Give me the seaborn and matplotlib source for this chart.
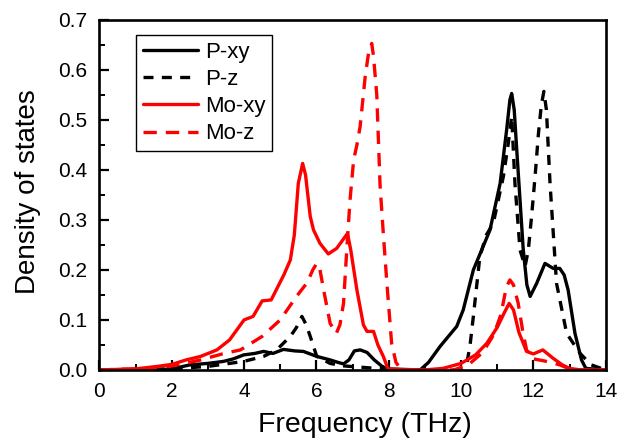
import numpy as np
import pandas as pd
import matplotlib
matplotlib.use("Agg")
import matplotlib.pyplot as plt
from matplotlib.ticker import MultipleLocator, FormatStrFormatter
import seaborn as sns

# ---- data ----
mo_xy_x = [0, 1.0, 1.6, 2.0, 2.4, 2.8, 3.25, 3.6, 3.8, 4.0, 4.25, 4.5, 4.75, 5.1, 5.28, 5.39,
           5.5, 5.62, 5.7, 5.83, 5.92, 6.1, 6.33, 6.56, 6.86, 6.95, 7.12, 7.3, 7.4, 7.58, 7.7,
           7.85, 7.98, 8.5, 9.0, 9.5, 10.0, 10.4, 10.71, 11.0, 11.2, 11.33, 11.45, 11.6, 11.81,
           12.0, 12.26, 12.55, 12.8, 13.0, 13.3, 14]
mo_xy_y = [0, 0.002, 0.007, 0.011, 0.02, 0.027, 0.04, 0.06, 0.08, 0.1, 0.107, 0.138, 0.14, 0.19,
           0.22, 0.27, 0.373, 0.413, 0.39, 0.307, 0.28, 0.253, 0.232, 0.243, 0.273, 0.24, 0.16, 0.09,
           0.077, 0.077, 0.05, 0.027, 0.002, 0, 0, 0.003, 0.013, 0.03, 0.053, 0.085, 0.115, 0.133,
           0.12, 0.075, 0.037, 0.032, 0.04, 0.023, 0.01, 0.003, 0, 0]

mo_z_x = [0, 1.5, 2.0, 2.5, 2.8, 3.4, 3.9, 4.5, 5.0, 5.45, 5.75, 5.9, 6.01, 6.1, 6.2, 6.38, 6.55,
          6.65, 6.75, 6.84, 6.93, 7.03, 7.12, 7.21, 7.35, 7.44, 7.53, 7.58, 7.67, 7.76, 7.85, 7.95,
          8.08, 8.2, 8.35, 9.8, 10.2, 10.6, 10.9, 11.1, 11.25, 11.35, 11.45, 11.58, 11.7, 11.81,
          12.0, 12.3, 12.73, 13.0, 13.3, 14]
mo_z_y = [0, 0.003, 0.008, 0.015, 0.02, 0.032, 0.04, 0.067, 0.1, 0.147, 0.175, 0.2, 0.213, 0.2,
          0.16, 0.093, 0.073, 0.09, 0.133, 0.24, 0.34, 0.42, 0.45, 0.487, 0.587, 0.633, 0.653,
          0.627, 0.55, 0.37, 0.273, 0.173, 0.053, 0.015, 0, 0, 0.01, 0.035, 0.07, 0.11, 0.165,
          0.18, 0.17, 0.133, 0.08, 0.04, 0.022, 0.018, 0.01, 0.002, 0, 0]

p_xy_x = [0, 1.5, 2.0, 2.5, 3.0, 3.43, 3.7, 3.99, 4.3, 4.54, 4.8, 5.09, 5.4, 5.64, 6.01, 6.38, 6.6,
          6.75, 6.9, 7.05, 7.21, 7.4, 7.6, 7.8, 7.95, 8.87, 9.1, 9.42, 9.88, 10.06, 10.2, 10.34,
          10.6, 10.8, 11.08, 11.26, 11.35, 11.4, 11.47, 11.54, 11.63, 11.72, 11.82, 11.91, 12.09,
          12.32, 12.55, 12.73, 12.85, 12.96, 13.15, 13.33, 13.45, 14]
p_xy_y = [0, 0, 0.002, 0.01, 0.013, 0.017, 0.022, 0.03, 0.033, 0.037, 0.033, 0.041, 0.038, 0.037,
          0.027, 0.02, 0.015, 0.012, 0.02, 0.038, 0.04, 0.035, 0.02, 0.008, 0.002, 0, 0.015, 0.047,
          0.087, 0.12, 0.16, 0.2, 0.245, 0.28, 0.373, 0.48, 0.54, 0.553, 0.52, 0.44, 0.34, 0.24,
          0.17, 0.147, 0.173, 0.213, 0.203, 0.203, 0.19, 0.16, 0.073, 0.02, 0.003, 0]

p_z_x = [0, 2.0, 3.0, 3.5, 3.99, 4.54, 4.9, 5.28, 5.45, 5.6, 5.72, 5.83, 6.01, 6.38, 6.75, 7.3,
         7.85, 8.1, 10.0, 10.16, 10.25, 10.34, 10.52, 10.7, 10.89, 11.17, 11.3, 11.4, 11.49, 11.63,
         11.77, 11.86, 11.95, 12.05, 12.14, 12.22, 12.29, 12.36, 12.46, 12.64, 12.92, 13.29, 13.6, 14.0]
p_z_y = [0, 0.002, 0.007, 0.012, 0.017, 0.027, 0.04, 0.067, 0.085, 0.107, 0.09, 0.067, 0.027,
         0.013, 0.008, 0.005, 0.002, 0, 0, 0.013, 0.05, 0.107, 0.227, 0.27, 0.293, 0.387, 0.45,
         0.507, 0.373, 0.24, 0.207, 0.24, 0.307, 0.39, 0.473, 0.53, 0.557, 0.52, 0.373, 0.173,
         0.073, 0.033, 0.01, 0]

labels = ["P-xy", "P-z", "Mo-xy", "Mo-z"]
xticks = [0, 2, 4, 6, 8, 10, 12, 14]
yticks = [0.0, 0.1, 0.2, 0.3, 0.4, 0.5, 0.6, 0.7]

# ---- style ----
sns.set_style("ticks")
plt.rcParams["font.family"] = ["Liberation Sans", "DejaVu Sans"]
plt.rcParams["xtick.direction"] = "in"
plt.rcParams["ytick.direction"] = "in"
plt.rcParams["text.color"] = "black"
plt.rcParams["axes.labelcolor"] = "black"
plt.rcParams["xtick.color"] = "black"
plt.rcParams["ytick.color"] = "black"
plt.rcParams["axes.edgecolor"] = "black"

fig = plt.figure(figsize=(6.29, 4.43), dpi=100)
ax = fig.add_axes([0.158, 0.165, 0.805, 0.79])

series = [
    (p_xy_x, p_xy_y, "black", None),
    (p_z_x, p_z_y, "black", (3, 2.5)),
    (mo_xy_x, mo_xy_y, "red", None),
    (mo_z_x, mo_z_y, "red", (4, 2.7)),
]
for (xs, ys, col, dash), lab in zip(series, labels):
    df = pd.DataFrame({"x": xs, "y": ys})
    kw = {}
    if dash is not None:
        kw["dashes"] = dash
    sns.lineplot(data=df, x="x", y="y", ax=ax, color=col, lw=2.4,
                 label=lab, sort=False, estimator=None, **kw)

ax.set_xlim(0, 14)
ax.set_ylim(0, 0.7)
ax.set_xticks(xticks)
ax.set_yticks(yticks)
ax.xaxis.set_minor_locator(MultipleLocator(1))
ax.yaxis.set_minor_locator(MultipleLocator(0.05))
ax.yaxis.set_major_formatter(FormatStrFormatter("%.1f"))
ax.tick_params(axis="both", which="major", labelsize=15, length=7.5, width=1.6,
               color="black", labelcolor="black")
ax.tick_params(axis="x", which="major", pad=9)
ax.tick_params(axis="y", which="major", pad=9)
ax.tick_params(axis="both", which="minor", length=4.5, width=1.4, color="black")
for s in ax.spines.values():
    s.set_linewidth(1.9)
    s.set_color("black")

ax.set_xlabel("Frequency (THz)", fontsize=20.5, color="black")
ax.set_ylabel("Density of states", fontsize=20, color="black")
ax.xaxis.set_label_coords(0.525, -0.12)
ax.yaxis.set_label_coords(-0.115, 0.51)

leg = ax.legend(loc="upper left", bbox_to_anchor=(0.072, 0.957), borderaxespad=0,
                fontsize=16, frameon=True, fancybox=False, framealpha=1,
                handlelength=2.5, handletextpad=0.3, labelspacing=0.28,
                borderpad=0.3, edgecolor="black")
leg.get_frame().set_linewidth(1.0)
for t in leg.get_texts():
    t.set_color("black")

fig.savefig("out.png", dpi=100)
